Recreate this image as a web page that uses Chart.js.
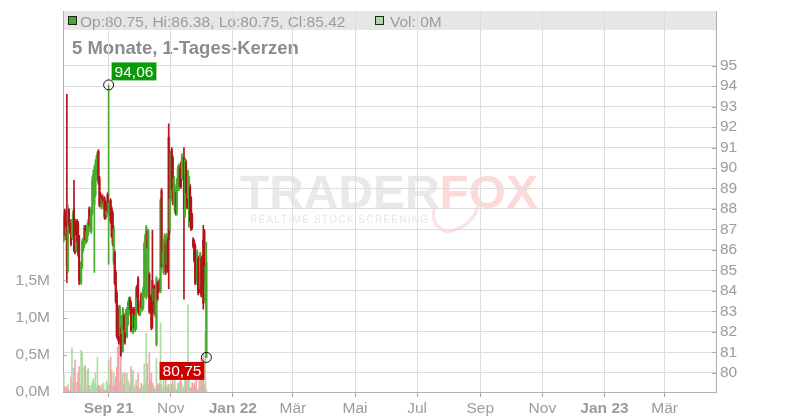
<!DOCTYPE html>
<html>
<head>
<meta charset="utf-8">
<script src="https://cdn.jsdelivr.net/npm/chart.js@4.4.1/dist/chart.umd.min.js"></script>
<style>
  html, body { margin: 0; padding: 0; background: #fff; }
  canvas { display: block; }
</style>
</head>
<body>
<canvas id="chart" width="800" height="420"></canvas>
<script>
// Tageskerzen ab 19.07.2021 (ein Wert pro Kalendertag)
const firstDay = '2021-07-19';

const opens = [
  86.5, 87.9, 86.7, 87.5, 85.0, 88.0, 87.3,
  87.2, 86.6, 87.2, 88.0, 87.4, 86.0, 87.4,
  87.3, 86.7, 85.2, 84.4, 85.2, 86.0, 86.2,
  87.1, 86.5, 86.5, 86.8, 88.0, 87.0, 86.9,
  87.8, 88.8, 88.2, 88.7, 89.5, 89.8, 90.8,
  89.5, 88.7, 88.1, 88.6, 88.1, 88.5, 88.3,
  87.7, 88.7, 87.8, 87.8, 88.4, 88.0, 87.8,
  85.4, 85.9, 84.9, 83.9, 83.2, 82.3, 81.8,
  82.2, 81.9, 81.1, 82.8, 82.6, 82.0, 81.8,
  82.4, 82.9, 83.6, 83.4, 83.1, 82.0, 83.1,
  82.1, 82.2, 84.2, 84.6, 83.0, 82.9, 83.8,
  83.1, 83.2, 83.8, 84.2, 83.7, 86.9, 83.8,
  84.8, 83.7, 83.6, 84.5, 83.5, 84.2, 82.8,
  81.4, 84.4, 84.3, 84.5, 84.0, 88.9, 85.3,
  84.9, 85.3, 86.3, 85.3, 86.5, 91.5, 87.0,
  88.5, 90.9, 90.5, 88.3, 87.9, 88.8, 87.8,
  89.4, 89.0, 90.0, 90.2, 89.5, 89.7, 90.5,
  87.7, 90.3, 89.4, 88.5, 87.2, 89.1, 88.5,
  87.7, 86.5, 86.4, 86.2, 85.7, 84.4, 85.6,
  84.8, 84.1, 85.6, 85.6, 86.5, 86.9, 83.5,
  80.75
];
const highs = [
  87.7, 88.0, 87.3, 93.6, 88.2, 88.0, 87.5,
  87.3, 87.5, 87.9, 89.4, 87.5, 86.9, 87.5,
  87.4, 86.7, 85.4, 85.4, 86.5, 86.6, 87.2,
  87.2, 87.0, 87.3, 87.5, 88.1, 87.8, 88.1,
  89.6, 89.9, 90.1, 90.4, 90.6, 90.8, 90.9,
  89.6, 88.8, 88.6, 88.7, 88.5, 88.6, 88.4,
  88.0, 88.8, 94.06, 88.4, 88.5, 88.1, 87.9,
  87.2, 86.0, 85.0, 84.0, 83.3, 82.4, 83.3,
  82.3, 82.8, 83.2, 82.9, 82.7, 83.1, 83.2,
  83.5, 83.7, 83.7, 83.5, 83.2, 83.0, 83.2,
  82.9, 84.2, 84.3, 84.7, 83.1, 83.5, 83.9,
  83.9, 84.2, 86.4, 86.8, 87.2, 87.0, 87.0,
  84.9, 83.8, 83.7, 86.96, 84.2, 84.3, 84.2,
  84.7, 84.5, 84.4, 84.6, 88.5, 89.0, 86.0,
  86.5, 86.8, 86.4, 86.8, 86.6, 92.16, 88.6,
  90.8, 91.0, 90.6, 89.6, 89.2, 88.9, 89.5,
  90.1, 90.2, 90.1, 90.3, 90.7, 90.5, 91.0,
  90.5, 90.4, 89.5, 89.9, 89.6, 89.2, 88.6,
  87.8, 86.6, 86.5, 86.3, 85.8, 86.0, 85.7,
  84.9, 85.9, 85.7, 85.7, 87.2, 87.0, 85.3,
  86.38
];
const lows = [
  86.4, 86.6, 86.5, 84.4, 84.9, 87.1, 86.8,
  86.2, 86.5, 87.0, 85.9, 85.8, 85.9, 86.3,
  85.7, 84.3, 84.4, 84.3, 85.1, 85.9, 86.1,
  86.4, 86.3, 86.4, 86.7, 87.1, 86.9, 86.8,
  87.7, 88.6, 84.9, 88.6, 89.4, 89.7, 89.2,
  88.1, 88.1, 88.0, 88.2, 88.0, 87.5, 87.5,
  87.6, 87.8, 85.3, 87.7, 87.3, 86.6, 86.2,
  85.3, 84.3, 83.4, 81.7, 81.6, 81.4, 81.7,
  80.8, 81.8, 81.0, 82.0, 81.4, 81.9, 81.7,
  82.3, 82.8, 83.0, 82.0, 82.2, 81.9, 82.1,
  82.0, 82.1, 83.6, 82.9, 82.8, 82.8, 83.1,
  83.0, 83.1, 83.7, 84.1, 83.6, 86.0, 83.7,
  82.9, 83.0, 82.1, 82.17, 83.4, 82.8, 82.7,
  81.3, 83.5, 83.9, 84.0, 83.9, 85.1, 85.2,
  84.8, 85.2, 84.8, 85.2, 84.9, 84.1, 86.8,
  88.4, 88.9, 88.2, 88.2, 87.8, 87.7, 87.7,
  89.3, 88.9, 89.0, 89.0, 89.4, 89.6, 83.6,
  87.6, 88.7, 88.0, 88.4, 87.1, 87.3, 86.95,
  87.0, 86.1, 85.4, 84.3, 84.4, 84.3, 83.8,
  83.9, 84.0, 83.7, 84.1, 83.1, 84.4, 83.4,
  80.75
];
const closes = [
  87.6, 86.7, 87.1, 85.2, 88.0, 87.2, 86.9,
  86.3, 87.4, 87.7, 86.0, 85.9, 86.7, 86.4,
  85.8, 84.5, 84.6, 85.3, 86.4, 86.5, 87.1,
  86.5, 86.9, 87.2, 87.4, 87.2, 87.6, 88.0,
  89.4, 89.7, 89.9, 90.2, 90.4, 90.7, 89.3,
  88.2, 88.2, 88.5, 88.3, 88.4, 87.6, 87.6,
  87.9, 87.9, 88.3, 88.3, 87.4, 86.7, 86.3,
  87.0, 84.4, 83.5, 81.8, 81.7, 81.5, 83.2,
  80.9, 82.7, 83.1, 82.1, 81.5, 83.0, 83.1,
  83.4, 83.6, 83.1, 82.1, 82.3, 82.9, 82.2,
  82.8, 84.1, 83.7, 83.0, 82.9, 83.4, 83.2,
  83.8, 84.1, 86.3, 86.7, 87.1, 86.1, 86.9,
  83.0, 83.1, 82.2, 83.0, 84.1, 82.9, 84.1,
  84.6, 83.6, 84.0, 84.1, 88.4, 85.2, 85.9,
  86.4, 86.7, 84.9, 86.7, 85.0, 86.5, 88.5,
  90.7, 89.0, 88.3, 89.5, 89.1, 87.8, 89.4,
  90.0, 90.1, 89.1, 89.1, 90.6, 90.4, 88.0,
  90.4, 88.8, 88.1, 89.8, 89.5, 87.4, 87.0,
  87.1, 86.2, 85.5, 84.4, 84.5, 85.9, 83.9,
  84.0, 85.8, 83.8, 84.2, 83.4, 84.5, 85.2,
  85.42
];
// Volumen in Mio. Stück
const volumes = [
  0.24, 0.07, 0.05, 0.07, 0.10, 0.03, 0.02,
  0.20, 0.59, 0.12, 0.32, 0.43, 0.04, 0.13,
  0.25, 0.34, 0.10, 0.56, 0.52, 0.04, 0.34,
  0.36, 0.08, 0.29, 0.32, 0.09, 0.03, 0.09,
  0.13, 0.18, 0.11, 0.25, 0.06, 0.47, 0.09,
  0.08, 0.05, 0.10, 0.04, 0.12, 0.03, 0.02,
  0.15, 0.08, 0.43, 0.10, 0.47, 0.29, 0.08,
  0.25, 0.09, 0.20, 0.33, 0.61, 0.66, 0.15,
  0.47, 0.18, 0.25, 0.10, 0.25, 0.06, 0.25,
  0.16, 0.12, 0.07, 0.34, 0.25, 0.29, 0.05,
  0.09, 0.16, 0.08, 0.25, 0.05, 0.04, 0.12,
  0.06, 0.10, 0.38, 0.12, 0.79, 0.38, 0.10,
  0.53, 0.15, 0.25, 0.12, 0.09, 0.05, 0.04,
  0.45, 0.10, 0.08, 0.12, 0.93, 0.10, 0.03,
  0.16, 0.08, 0.18, 0.10, 0.06, 0.10, 0.05,
  0.12, 0.10, 0.29, 0.08, 0.15, 0.04, 0.03,
  0.12, 0.09, 0.14, 0.16, 0.10, 0.04, 0.07,
  0.20, 0.22, 0.15, 1.17, 0.18, 0.06, 0.05,
  0.13, 0.10, 0.12, 0.08, 0.20, 0.04, 0.03,
  0.15, 0.18, 0.45, 0.35, 0.52, 0.10, 0.81,
  0.04
];

// Achsenbeschriftung
const tickDates = ['2021-09-01', '2021-11-01', '2022-01-01', '2022-03-01', '2022-05-01',
  '2022-07-01', '2022-09-01', '2022-11-01', '2023-01-01', '2023-03-01'];
const tickLabels = ['Sep 21', 'Nov', 'Jan 22', 'Mär', 'Mai', 'Jul', 'Sep', 'Nov', 'Jan 23', 'Mär'];
const boldTicks = ['Sep 21', 'Jan 22', 'Jan 23'];
const priceTicks = [80, 81, 82, 83, 84, 85, 86, 87, 88, 89, 90, 91, 92, 93, 94, 95];
const volumeTicks = [0, 0.5, 1.0, 1.5];

// Farben
const green = '#47aa2c';
const red = '#b3121b';
const volGreen = '#a9dca1';
const volRed = '#f1a6ad';
const textGrey = '#9c9c9c';
const font = "'Liberation Sans', Arial, sans-serif";

// Hilfsfunktionen
const dayOf = (s) => {
  let p = s.split('-').map(Number);
  let f = firstDay.split('-').map(Number);
  return Math.round((Date.UTC(p[0], p[1] - 1, p[2]) - Date.UTC(f[0], f[1] - 1, f[2])) / 864e5);
};
const tickDays = tickDates.map(dayOf);
const isUp = (i) => closes[i] >= opens[i];

const bodies = opens.map((o, i) => ({ x: i, y: [o, closes[i]] }));
const wicks = lows.map((l, i) => ({ x: i, y: [l, highs[i]] }));
const vols = volumes.map((v, i) => ({ x: i, y: v }));

// Hintergrund: Kopfzeile, Titel, Wasserzeichen
const backgroundPlugin = {
  id: 'background',
  beforeDraw(chart) {
    let c = chart.ctx;
    let a = chart.chartArea;
    c.save();
    c.fillStyle = '#fff';
    c.fillRect(0, 0, chart.width, chart.height);

    // Wasserzeichen
    c.font = 'bold 46px ' + font;
    let w1 = c.measureText('TRADER').width;
    let w2 = c.measureText('FOX').width;
    let sx = 298 / (w1 + w2);
    c.save();
    c.translate(240, 208);
    c.scale(sx, 1);
    c.fillStyle = '#e9e9e9';
    c.fillText('TRADER', 0, 0);
    c.fillStyle = '#fcdada';
    c.fillText('FOX', w1, 0);
    c.restore();
    c.strokeStyle = '#fde0e0';
    c.lineWidth = 3;
    c.beginPath();
    c.moveTo(478, 206);
    c.quadraticCurveTo(472, 228, 446, 232);
    c.quadraticCurveTo(428, 224, 436, 204);
    c.stroke();
    c.font = '10px ' + font;
    c.fillStyle = '#e6e6e6';
    let sub = 'REALTIME STOCK SCREENING';
    let tw = c.measureText(sub).width;
    let gap = (177 - tw) / (sub.length - 1);
    let xx = 250;
    for (let ch of sub) {
      c.fillText(ch, xx, 223);
      xx += c.measureText(ch).width + gap;
    }

    // Kopfzeile
    c.fillStyle = '#e6e6e6';
    c.fillRect(a.left, a.top, a.right - a.left, 19);
    c.lineWidth = 1;
    c.strokeStyle = '#222';
    c.fillStyle = green;
    c.fillRect(68.5, 16.5, 8, 8);
    c.strokeRect(68.5, 16.5, 8, 8);
    c.fillStyle = volGreen;
    c.fillRect(375.5, 16.5, 8, 8);
    c.strokeRect(375.5, 16.5, 8, 8);
    let last = opens.length - 1;
    c.font = '15.5px ' + font;
    c.fillStyle = textGrey;
    c.textBaseline = 'alphabetic';
    c.fillText('Op:' + opens[last].toFixed(2) + ', Hi:' + highs[last].toFixed(2) +
      ', Lo:' + lows[last].toFixed(2) + ', Cl:' + closes[last].toFixed(2), 80, 26.5);
    c.fillText('Vol: ' + Math.round(volumes[last]) + 'M', 390, 26.5);

    // Titel
    c.font = 'bold 18.5px ' + font;
    c.fillStyle = '#8c8c8c';
    c.fillText('5 Monate, 1-Tages-Kerzen', 72, 54);
    c.restore();
  }
};

// Markierungen für Hoch und Tief, kleine Achsstriche
const markerPlugin = {
  id: 'markers',
  afterDatasetsDraw(chart) {
    let c = chart.ctx;
    let a = chart.chartArea;
    let xs = chart.scales.x;
    let ys = chart.scales.y;
    let vs = chart.scales.yVol;
    c.save();
    c.strokeStyle = '#aaa';
    c.lineWidth = 1;
    volumeTicks.forEach(v => {
      let y = Math.round(vs.getPixelForValue(v)) + 0.5;
      c.beginPath(); c.moveTo(a.left, y); c.lineTo(a.left + 4, y); c.stroke();
    });
    priceTicks.forEach(v => {
      let y = Math.round(ys.getPixelForValue(v)) + 0.5;
      c.beginPath(); c.moveTo(a.right - 4, y); c.lineTo(a.right, y); c.stroke();
    });

    let hi = highs.indexOf(Math.max(...highs));
    let lo = lows.indexOf(Math.min(...lows));
    c.font = '15.5px ' + font;
    c.textBaseline = 'middle';
    c.textAlign = 'center';
    const label = (i, value, color, above) => {
      let px = xs.getPixelForValue(i);
      let py = ys.getPixelForValue(value);
      let text = value.toFixed(2).replace('.', ',');
      let w = c.measureText(text).width + 6;
      let h = 18;
      let bx = above ? px + 3 : px - 2 - w;
      let by = above ? py - 22.5 : py + 4.5;
      c.fillStyle = color;
      c.fillRect(bx, by, w, h);
      c.fillStyle = '#fff';
      c.fillText(text, bx + w / 2, by + h / 2 + 1);
      c.strokeStyle = '#111';
      c.beginPath();
      c.arc(px, py, 5, 0, Math.PI * 2);
      c.stroke();
    };
    label(hi, highs[hi], '#0a9a0a', true);
    label(lo, lows[lo], '#cc0000', false);
    c.restore();
  }
};

const noPad = (s) => { s.paddingTop = 0; s.paddingBottom = 0; };

const ctx = document.getElementById('chart').getContext('2d');
const chart = new Chart(ctx, {
  type: 'bar',
  data: {
    datasets: [
      {
        data: bodies,
        yAxisID: 'y',
        grouped: false,
        barThickness: 1.5,
        backgroundColor: opens.map((o, i) => isUp(i) ? green : red),
        borderWidth: 0
      },
      {
        data: wicks,
        yAxisID: 'y',
        grouped: false,
        barThickness: 1,
        backgroundColor: opens.map((o, i) => isUp(i) ? green : red),
        borderWidth: 0
      },
      {
        data: vols,
        yAxisID: 'yVol',
        grouped: false,
        barThickness: 1,
        backgroundColor: opens.map((o, i) => isUp(i) ? volGreen : volRed),
        borderWidth: 0
      }
    ]
  },
  options: {
    responsive: false,
    animation: false,
    layout: { padding: { top: 11, left: 0, right: 0, bottom: 0 } },
    plugins: {
      legend: { display: false },
      tooltip: { enabled: false }
    },
    scales: {
      x: {
        type: 'linear',
        min: -0.8,
        max: 640.5,
        offset: false,
        afterBuildTicks: (s) => { s.ticks = tickDays.map(v => ({ value: v })); },
        afterFit: (s) => { s.height = 28; },
        grid: { color: '#dcdcdc', tickColor: '#aaa', tickLength: 5, offset: false },
        border: { color: '#b0b0b0' },
        ticks: {
          autoSkip: false,
          maxRotation: 0,
          padding: 2,
          color: textGrey,
          font: (c) => ({ family: font, size: 15.5, weight: boldTicks.includes(tickLabels[c.index]) ? 'bold' : 'normal' }),
          callback: (v, i) => tickLabels[i]
        }
      },
      y: {
        position: 'right',
        min: 79.06,
        max: 97.67,
        afterBuildTicks: (s) => { s.ticks = priceTicks.map(v => ({ value: v })); },
        afterFit: (s) => { s.width = 84; noPad(s); },
        grid: { color: '#dcdcdc', drawTicks: false },
        border: { color: '#b0b0b0' },
        ticks: {
          padding: 4,
          color: textGrey,
          font: { family: font, size: 15.5 },
          callback: (v) => v
        }
      },
      yVol: {
        position: 'left',
        min: 0,
        max: 5.12,
        afterBuildTicks: (s) => { s.ticks = volumeTicks.map(v => ({ value: v })); },
        afterFit: (s) => { s.width = 63; noPad(s); },
        grid: { display: false },
        border: { color: '#b0b0b0' },
        ticks: {
          padding: 5,
          color: textGrey,
          font: { family: font, size: 15.5 },
          callback: (v) => v.toFixed(1).replace('.', ',') + 'M'
        }
      }
    }
  },
  plugins: [backgroundPlugin, markerPlugin]
});
</script>
</body>
</html>
